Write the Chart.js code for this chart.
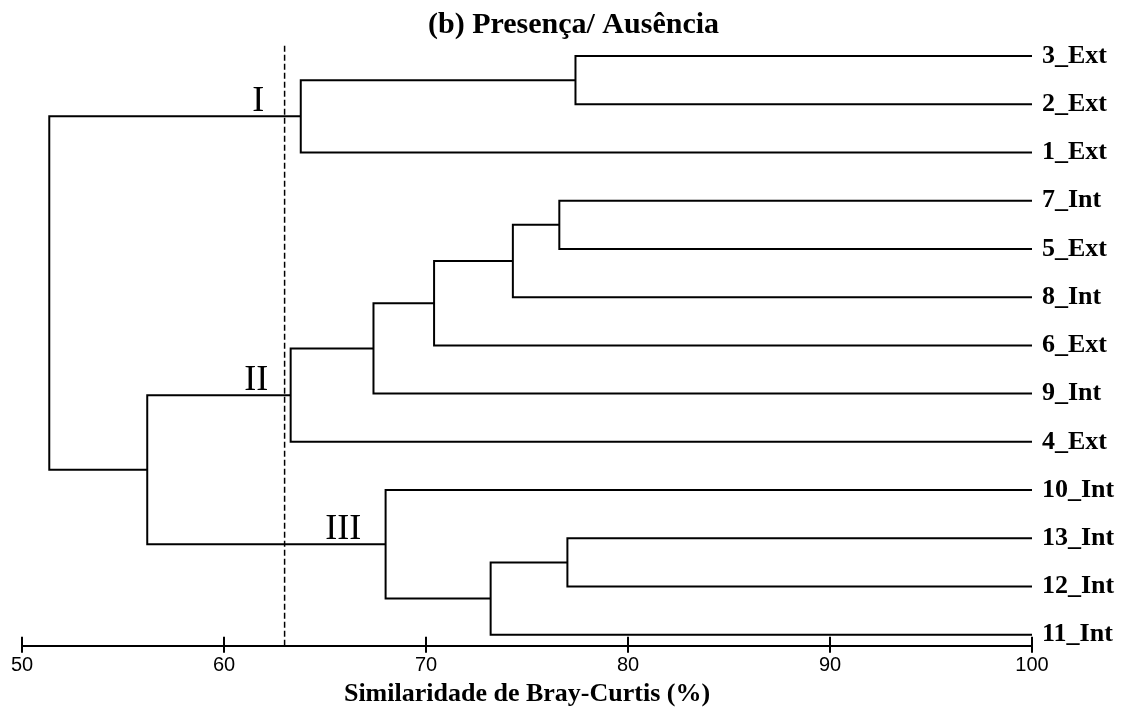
<!DOCTYPE html>
<html>
<head>
<meta charset="utf-8">
<script src="https://cdn.jsdelivr.net/npm/chart.js@4.4.2/dist/chart.umd.min.js"></script>
<style>
  html, body { margin: 0; background: #fff; }
  #wrap { width: 1125px; height: 710px; }
</style>
</head>
<body>
<div id="wrap"><canvas id="dendro"></canvas></div>
<script>
// Leaves, top to bottom
const leafLabels = ['3_Ext', '2_Ext', '1_Ext', '7_Int', '5_Ext', '8_Int', '6_Ext', '9_Int', '4_Ext', '10_Int', '13_Int', '12_Int', '11_Int'];
// Merges: node ids 0..12 are leaves, merge k gets id 13 + k
const mergeA   = [0, 13, 3, 15, 16, 17, 18, 10, 20, 9, 19, 14];
const mergeB   = [1, 2, 4, 5, 6, 7, 8, 11, 12, 21, 22, 23];
const mergeSim = [77.4, 63.8, 76.6, 74.3, 70.4, 67.4, 63.3, 77.0, 73.2, 68.0, 56.2, 51.35];
const cutSim = 63;
// Group labels (I, II, III) sit above the branch of these nodes
const groupLabels = ['I', 'II', 'III'];
const groupNodes  = [14, 19, 22];
const groupSim    = [61.7, 61.6, 65.9];
const xTicks = [50, 60, 70, 80, 90, 100];

const nLeaf = leafLabels.length;
const nodeX = leafLabels.map(() => 100);
const nodeY = leafLabels.map((_, i) => nLeaf - 1 - i);
mergeSim.forEach((s, k) => {
  nodeX.push(s);
  nodeY.push((nodeY[mergeA[k]] + nodeY[mergeB[k]]) / 2);
});

const branchPts = [];
mergeSim.forEach((s, k) => {
  const a = mergeA[k], b = mergeB[k];
  branchPts.push(
    { x: nodeX[a], y: nodeY[a] },
    { x: s, y: nodeY[a] },
    { x: s, y: nodeY[b] },
    { x: nodeX[b], y: nodeY[b] },
    { x: s, y: null }
  );
});

const yMin = -0.23, yMax = nLeaf - 1 + 0.23;

const extras = {
  id: 'extras',
  afterDraw(chart) {
    const { ctx, scales: { x, y }, chartArea } = chart;
    ctx.save();
    // tick marks also reach up into the plot
    ctx.strokeStyle = '#000';
    ctx.lineWidth = 2;
    xTicks.forEach(v => {
      const px = x.getPixelForValue(v);
      ctx.beginPath();
      ctx.moveTo(px, chartArea.bottom - 9);
      ctx.lineTo(px, chartArea.bottom);
      ctx.stroke();
    });
    // group numerals
    ctx.fillStyle = '#000';
    ctx.font = '36px "Liberation Serif"';
    ctx.textAlign = 'center';
    ctx.textBaseline = 'alphabetic';
    groupLabels.forEach((t, i) => {
      ctx.fillText(t, x.getPixelForValue(groupSim[i]), y.getPixelForValue(nodeY[groupNodes[i]]) - 5);
    });
    ctx.restore();
  }
};

new Chart(document.getElementById('dendro'), {
  type: 'line',
  data: {
    datasets: [
      {
        data: branchPts,
        borderColor: '#000',
        borderWidth: 2,
        pointRadius: 0,
        spanGaps: false,
        tension: 0,
      },
      {
        data: [{ x: cutSim, y: yMin }, { x: cutSim, y: yMax }],
        borderColor: '#000',
        borderWidth: 1.5,
        borderDash: [6, 3],
        pointRadius: 0,
      }
    ]
  },
  options: {
    responsive: true,
    maintainAspectRatio: false,
    animation: false,
    events: [],
    layout: { padding: { left: 22, right: 0, top: 0, bottom: 0 } },
    plugins: {
      legend: { display: false },
      tooltip: { enabled: false },
      title: {
        display: true,
        text: '(b) Presença/ Ausência',
        color: '#000',
        font: { family: 'Liberation Serif', size: 30, weight: 'bold' },
        padding: { top: 7, bottom: 2 }
      }
    },
    scales: {
      x: {
        type: 'linear',
        min: 50,
        max: 100,
        afterBuildTicks: s => { s.ticks = xTicks.map(v => ({ value: v })); },
        border: { display: true, color: '#000', width: 2 },
        grid: { display: true, drawOnChartArea: false, drawTicks: true, tickLength: 7, color: '#000', lineWidth: 2 },
        ticks: { color: '#000', padding: 1, maxRotation: 0, autoSkip: false, font: { family: 'Liberation Sans', size: 20 } },
        title: {
          display: true,
          text: 'Similaridade de Bray-Curtis (%)',
          color: '#000',
          font: { family: 'Liberation Serif', size: 26, weight: 'bold' },
          padding: { top: 0, bottom: 0 }
        }
      },
      y: {
        type: 'linear',
        position: 'right',
        min: yMin,
        max: yMax,
        afterBuildTicks: s => { s.ticks = leafLabels.map((_, i) => ({ value: nLeaf - 1 - i })); },
        afterFit: s => { s.width = 93; },
        border: { display: false },
        grid: { display: false, drawTicks: false },
        ticks: {
          color: '#000',
          padding: 10,
          autoSkip: false,
          font: { family: 'Liberation Serif', size: 26, weight: 'bold' },
          callback: v => leafLabels[nLeaf - 1 - Math.round(v)]
        }
      }
    }
  },
  plugins: [extras]
});
</script>
</body>
</html>
